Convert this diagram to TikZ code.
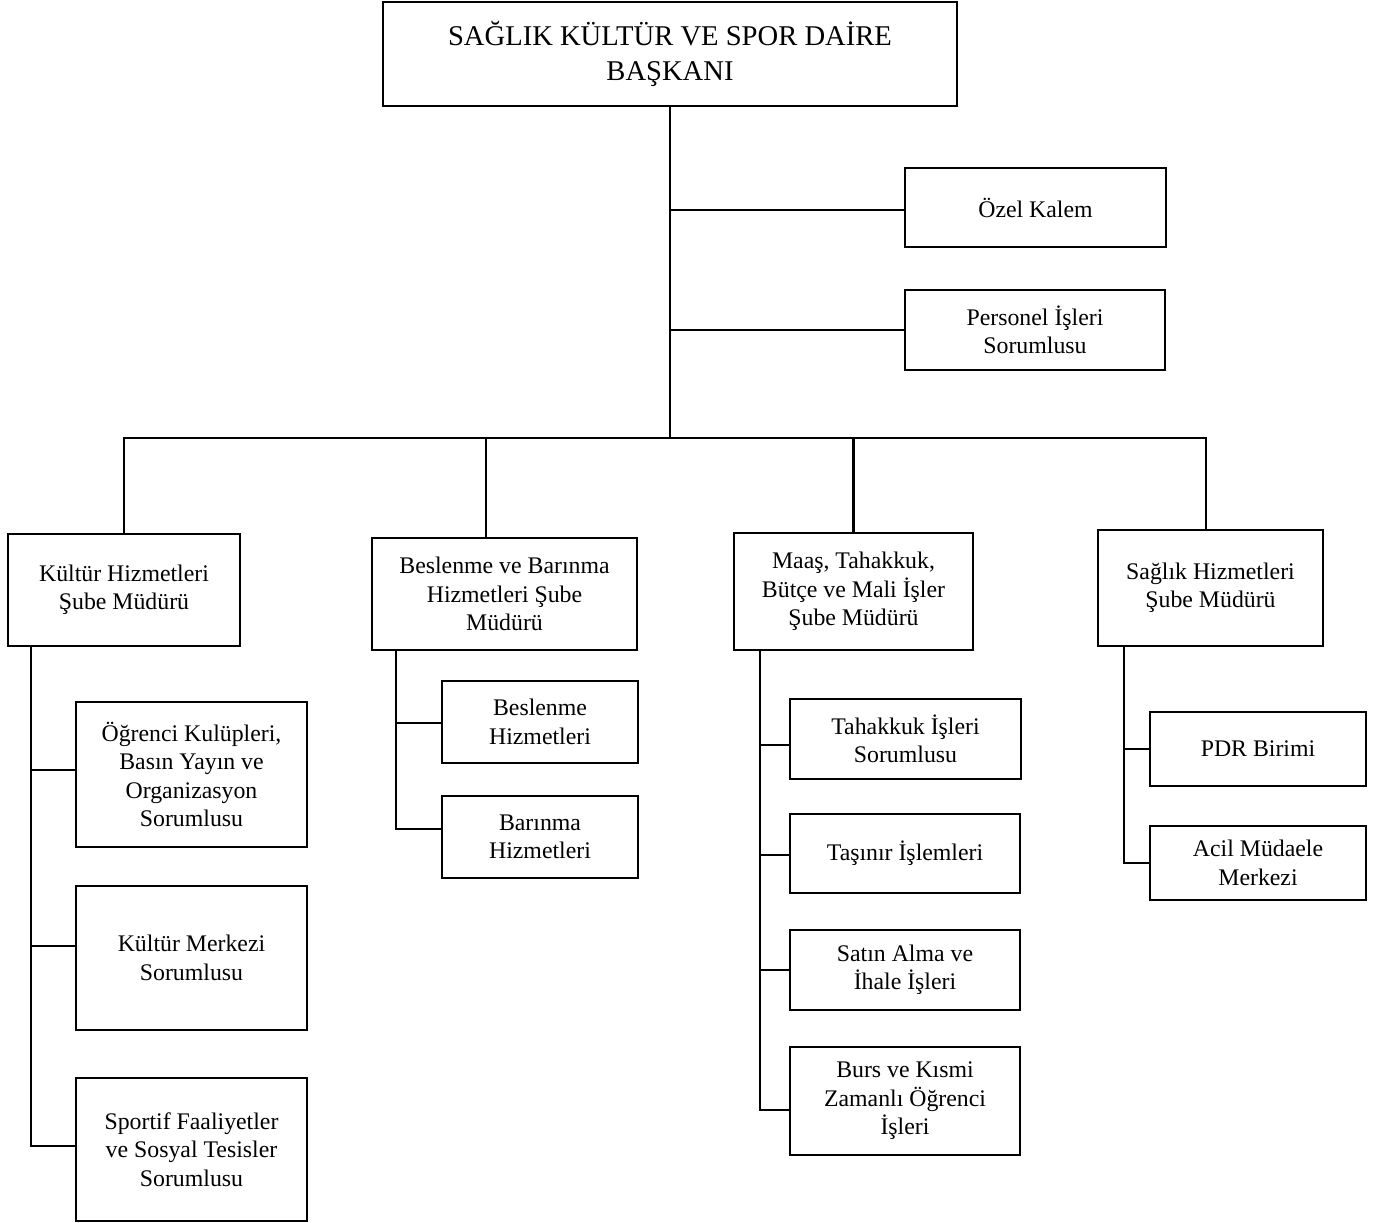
\documentclass[tikz,border=0pt]{standalone}
\usepackage{fontspec}
\setmainfont{Liberation Serif}
\newcommand\bodyfs{\fontsize{23.8}{28.5}\selectfont}
\newcommand\titlefs{\fontsize{28.6}{35}\selectfont}
\begin{document}
\begin{tikzpicture}[x=1pt,y=-1pt,
  box/.style={draw, line width=2.9pt, inner sep=0pt, align=center, font=\bodyfs},
  conn/.style={line width=2.9pt}]
\useasboundingbox (0,0) rectangle (1373,1223);
% top
\node[box, font=\titlefs, minimum width=574pt, minimum height=104pt] (top) at (670,54) {SAĞLIK KÜLTÜR VE SPOR DAİRE\\BAŞKANI};
\node[box, minimum width=261pt, minimum height=79pt] (oz) at (1035.5,207.5) {Özel Kalem};
\node[box, minimum width=260pt, minimum height=80pt] (pi) at (1035,330) {Personel İşleri\\Sorumlusu};
% branches
\node[box, minimum width=232pt, minimum height=112pt] (kh) at (124,590) {Kültür Hizmetleri\\Şube Müdürü};
\node[box, minimum width=265pt, minimum height=112pt] (bb) at (504.5,594) {Beslenme ve Barınma\\Hizmetleri Şube\\Müdürü};
\node[box, minimum width=239pt, minimum height=117pt] (ms) at (853.5,591.5) {Maaş, Tahakkuk,\\Bütçe ve Mali İşler\\Şube Müdürü};
\node[box, minimum width=225pt, minimum height=116pt] (sh) at (1210.5,588) {Sağlık Hizmetleri\\Şube Müdürü};
% Kultur children
\node[box, minimum width=231pt, minimum height=145pt] (og) at (191.5,774.5) {Öğrenci Kulüpleri,\\Basın Yayın ve\\Organizasyon\\Sorumlusu};
\node[box, minimum width=231pt, minimum height=144pt] (kmz) at (191.5,958) {Kültür Merkezi\\Sorumlusu};
\node[box, minimum width=231pt, minimum height=143pt] (sp) at (191.5,1149.5) {Sportif Faaliyetler\\ve Sosyal Tesisler\\Sorumlusu};
% Beslenme children
\node[box, minimum width=196pt, minimum height=82pt] (bh) at (540,722) {Beslenme\\Hizmetleri};
\node[box, minimum width=196pt, minimum height=82pt] (bar) at (540,837) {Barınma\\Hizmetleri};
% Maas children
\node[box, minimum width=231pt, minimum height=80pt] (th) at (905.5,739) {Tahakkuk İşleri\\Sorumlusu};
\node[box, minimum width=230pt, minimum height=79pt] (ts) at (905,853.5) {Taşınır İşlemleri};
\node[box, minimum width=230pt, minimum height=80pt] (sa) at (905,970) {Satın Alma ve\\İhale İşleri};
\node[box, minimum width=230pt, minimum height=108pt] (bu) at (905,1101) {Burs ve Kısmi\\Zamanlı Öğrenci\\İşleri};
% Saglik children
\node[box, minimum width=216pt, minimum height=74pt] (pdr) at (1258,749) {PDR Birimi};
\node[box, minimum width=216pt, minimum height=74pt] (acil) at (1258,863) {Acil Müdaele\\Merkezi};
% trunk and bus
\coordinate (busR) at (1206,438);
\coordinate (busT) at (670,438);
\coordinate (bbtop) at (486,438);
\draw[conn] (top.south) -- (busT);
\draw[conn] (kh.north) |- (busR) -- (busR |- sh.north);
\draw[conn] (top.south) |- ([yshift=-2.5pt]oz.west);
\draw[conn] (top.south) |- (pi.west);
\draw[conn] (bbtop) -- (bbtop |- bb.north);
\draw[conn] (ms.north |- busR) -- (ms.north);
% Kultur
\coordinate (kv) at (31,646);
\draw[conn] (kv) |- ([yshift=4.5pt]og.west);
\draw[conn] (kv) |- ([yshift=12pt]kmz.west);
\draw[conn] (kv) |- ([yshift=3.5pt]sp.west);
% Beslenme
\coordinate (bv) at (396,650);
\draw[conn] (bv) |- ([yshift=-1pt]bh.west);
\draw[conn] (bv) |- ([yshift=8pt]bar.west);
% Maas
\coordinate (mv) at (760,650);
\draw[conn] (mv) |- ([yshift=-6pt]th.west);
\draw[conn] (mv) |- ([yshift=-1.5pt]ts.west);
\draw[conn] (mv) |- (sa.west);
\draw[conn] (mv) |- ([yshift=-9pt]bu.west);
% Saglik
\coordinate (sv) at (1124,646);
\draw[conn] (sv) |- (pdr.west);
\draw[conn] (sv) |- (acil.west);
\end{tikzpicture}
\end{document}
